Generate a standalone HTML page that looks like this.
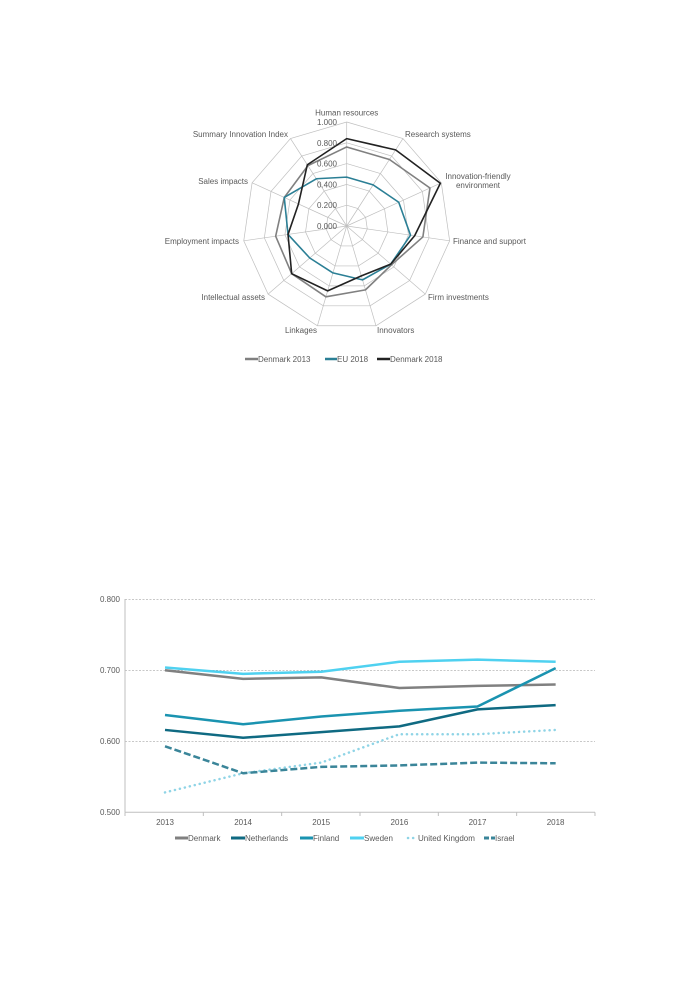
<!DOCTYPE html>
<html><head><meta charset="utf-8"><style>
html,body{margin:0;padding:0;background:#fff;}
svg{display:block;font-family:"Liberation Sans",Arial,sans-serif;}
text{fill:#595959;font-size:8px;}
</style></head><body>
<svg id="s" width="693" height="985" viewBox="0 0 693 985" xmlns="http://www.w3.org/2000/svg">
<g id="radar"></g>
<g font-size="8">
<text x="346.7" y="115.5" text-anchor="middle">Human resources</text>
<text x="337" y="125" text-anchor="end">1.000</text>
<text x="337" y="146" text-anchor="end">0.800</text>
<text x="337" y="166.5" text-anchor="end">0.600</text>
<text x="337" y="187.5" text-anchor="end">0.400</text>
<text x="337" y="208" text-anchor="end">0.200</text>
<text x="337" y="229" text-anchor="end">0.000</text>
<text x="405" y="137">Research systems</text>
<text x="478" y="179" text-anchor="middle">Innovation-friendly</text>
<text x="478" y="188" text-anchor="middle">environment</text>
<text x="453" y="244">Finance and support</text>
<text x="428" y="300">Firm investments</text>
<text x="377" y="333">Innovators</text>
<text x="317" y="333" text-anchor="end">Linkages</text>
<text x="265" y="300" text-anchor="end">Intellectual assets</text>
<text x="239" y="244" text-anchor="end">Employment impacts</text>
<text x="248" y="184" text-anchor="end">Sales impacts</text>
<text x="288" y="137" text-anchor="end">Summary Innovation Index</text>
<line x1="245" y1="359" x2="258" y2="359" stroke="#808080" stroke-width="2.5"/>
<text x="258" y="362">Denmark 2013</text>
<line x1="325" y1="359" x2="337" y2="359" stroke="#2b7f95" stroke-width="2.5"/>
<text x="337" y="362">EU 2018</text>
<line x1="377" y1="359" x2="390" y2="359" stroke="#222" stroke-width="2.5"/>
<text x="390" y="362">Denmark 2018</text>
</g>
<!-- line chart -->
<g stroke="#a6a6a6" stroke-width="0.7" stroke-dasharray="2,1.5">
<line x1="125" y1="599.3" x2="595" y2="599.3"/>
<line x1="125" y1="670.3" x2="595" y2="670.3"/>
<line x1="125" y1="741.3" x2="595" y2="741.3"/>
</g>
<g stroke="#bfbfbf" stroke-width="1">
<line x1="125" y1="599" x2="125" y2="812.3"/>
<line x1="125" y1="812.3" x2="595" y2="812.3"/>
</g>
<g id="ticks" stroke="#bfbfbf" stroke-width="1"></g>
<g font-size="8">
<text x="120" y="602" text-anchor="end">0.800</text>
<text x="120" y="673" text-anchor="end">0.700</text>
<text x="120" y="744" text-anchor="end">0.600</text>
<text x="120" y="815" text-anchor="end">0.500</text>
<text x="165" y="825" text-anchor="middle">2013</text>
<text x="243.1" y="825" text-anchor="middle">2014</text>
<text x="321.2" y="825" text-anchor="middle">2015</text>
<text x="399.4" y="825" text-anchor="middle">2016</text>
<text x="477.5" y="825" text-anchor="middle">2017</text>
<text x="555.6" y="825" text-anchor="middle">2018</text>
</g>
<g id="lines" fill="none" stroke-linejoin="round"></g>
<g font-size="8">
<line x1="175" y1="838" x2="188" y2="838" stroke="#808080" stroke-width="3"/>
<text x="188" y="841">Denmark</text>
<line x1="231" y1="838" x2="245" y2="838" stroke="#0f6a82" stroke-width="3"/>
<text x="245" y="841">Netherlands</text>
<line x1="300" y1="838" x2="313" y2="838" stroke="#1a93b0" stroke-width="3"/>
<text x="313" y="841">Finland</text>
<line x1="350" y1="838" x2="364" y2="838" stroke="#4fd1f0" stroke-width="3"/>
<text x="364" y="841">Sweden</text>
<line x1="408" y1="838" x2="418" y2="838" stroke="#8fd4e6" stroke-width="2.5" stroke-dasharray="0.1,5" stroke-linecap="round"/>
<text x="418" y="841">United Kingdom</text>
<line x1="484" y1="838" x2="495" y2="838" stroke="#3a8599" stroke-width="3" stroke-dasharray="5,2"/>
<text x="495" y="841">Israel</text>
</g>
</svg>
<script>
var NS="http://www.w3.org/2000/svg";
function el(p,t,a){var e=document.createElementNS(NS,t);for(var k in a)e.setAttribute(k,a[k]);p.appendChild(e);return e;}
var cx=346.7,cy=226,R=104,N=11,rg=document.getElementById('radar');
function pt(i,v){var a=-Math.PI/2+i*2*Math.PI/N;return [cx+R*v*Math.cos(a),cy+R*v*Math.sin(a)];}
for(var r=1;r<=5;r++){var ps=[];for(var i=0;i<N;i++)ps.push(pt(i,r*0.2).join(','));el(rg,'polygon',{points:ps.join(' '),fill:'none',stroke:'#bfbfbf','stroke-width':0.7});}
for(var i=0;i<N;i++){var p=pt(i,1);el(rg,'line',{x1:cx,y1:cy,x2:p[0],y2:p[1],stroke:'#bfbfbf','stroke-width':0.7});}
var series=[
 {c:'#808080',v:[0.76,0.76,0.88,0.74,0.57,0.64,0.71,0.70,0.69,0.66,0.69]},
 {c:'#2b7f95',v:[0.47,0.47,0.55,0.62,0.56,0.54,0.47,0.47,0.57,0.66,0.54]},
 {c:'#222222',v:[0.84,0.87,0.99,0.66,0.56,0.50,0.65,0.70,0.57,0.51,0.70]}];
series.forEach(function(s){var ps=s.v.map(function(v,i){return pt(i,v).join(',')});el(rg,'polygon',{points:ps.join(' '),fill:'none',stroke:s.c,'stroke-width':1.6,'stroke-linejoin':'round'});});
var tg=document.getElementById('ticks');
for(var k=0;k<=6;k++){var x=125+k*78.33;el(tg,'line',{x1:x,y1:812.3,x2:x,y2:816});}
var lg=document.getElementById('lines');
function Y(v){return 812.3-(v-0.5)*710;}
var L=[
 {c:'#8fd4e6',d:'0.1,5',w:2.5,cap:'round',v:[0.528,0.555,0.570,0.610,0.610,0.616]},
 {c:'#3a8599',d:'7,3',w:2.5,v:[0.593,0.555,0.564,0.566,0.570,0.569]},
 {c:'#808080',w:2.5,v:[0.700,0.688,0.690,0.675,0.678,0.680]},
 {c:'#0f6a82',w:2.5,v:[0.616,0.605,0.613,0.621,0.645,0.651]},
 {c:'#1a93b0',w:2.5,v:[0.637,0.624,0.635,0.643,0.649,0.703]},
 {c:'#4fd1f0',w:2.5,v:[0.704,0.695,0.698,0.712,0.715,0.712]}];
L.forEach(function(s){var ps=s.v.map(function(v,i){return (165+i*78.13)+','+Y(v)});var a={points:ps.join(' '),stroke:s.c,'stroke-width':s.w};if(s.d)a['stroke-dasharray']=s.d;if(s.cap)a['stroke-linecap']=s.cap;el(lg,'polyline',a);});
</script>
</body></html>
